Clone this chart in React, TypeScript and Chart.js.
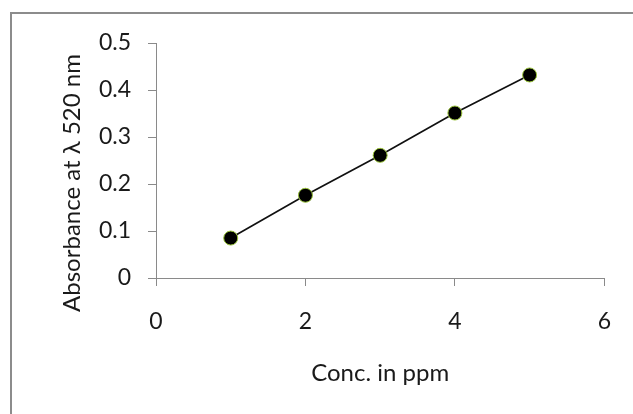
import React, { useEffect, useRef } from "react";
import { Chart, registerables } from "chart.js";

Chart.register(...registerables);

const concPpm = [1, 2, 3, 4, 5];
const absorbance = [0.085, 0.176, 0.261, 0.351, 0.432];
const xTickValues = [0, 2, 4, 6];
const yTickValues = [0, 0.1, 0.2, 0.3, 0.4, 0.5];
const xTitle = "Conc. in ppm";
const yTitle = "Absorbance at λ 520 nm";

const FONT = "Lato, 'Open Sans', sans-serif";
const AXIS_GREY = "#8a8a8a";

export default function App() {
  const canvasRef = useRef<HTMLCanvasElement | null>(null);

  useEffect(() => {
    if (!canvasRef.current) return;

    const yTitlePlugin = {
      id: "yTitlePlugin",
      afterDraw(chart: any) {
        const ctx = chart.ctx;
        ctx.save();
        ctx.translate(72, 183);
        ctx.rotate(-Math.PI / 2);
        ctx.font = `24px ${FONT}`;
        ctx.fillStyle = "#1a1a1a";
        ctx.textAlign = "center";
        ctx.textBaseline = "middle";
        ctx.fillText(yTitle, 0, 0);
        ctx.restore();
      },
    };

    const chart = new Chart(canvasRef.current, {
      type: "scatter",
      data: {
        datasets: [
          {
            data: concPpm.map((x, i) => ({ x, y: absorbance[i] })),
            showLine: true,
            borderColor: "#111",
            borderWidth: 1.7,
            pointRadius: 7,
            pointBackgroundColor: "#000",
            pointBorderColor: "#9ac43a",
            pointBorderWidth: 1,
          },
        ],
      },
      options: {
        animation: false,
        responsive: false,
        events: [],
        layout: { autoPadding: false, padding: { left: 0, top: 43, right: 26, bottom: 0 } },
        plugins: { legend: { display: false }, tooltip: { enabled: false } },
        scales: {
          x: {
            type: "linear",
            min: 0,
            max: 6,
            afterBuildTicks: (scale: any) => {
              scale.ticks = xTickValues.map((v) => ({ value: v }));
            },
            afterFit: (scale: any) => {
              scale.height = 136;
            },
            grid: {
              drawOnChartArea: false,
              drawTicks: true,
              tickLength: 8,
              color: AXIS_GREY,
            },
            border: { color: AXIS_GREY, width: 1 },
            ticks: {
              padding: 22,
              color: "#1a1a1a",
              font: { family: FONT, size: 23 },
            },
            title: {
              display: true,
              text: xTitle,
              color: "#1a1a1a",
              font: { family: FONT, size: 24 },
              padding: { top: 0, bottom: 26 },
            },
          },
          y: {
            type: "linear",
            min: 0,
            max: 0.5,
            afterBuildTicks: (scale: any) => {
              scale.ticks = yTickValues.map((v) => ({ value: v }));
            },
            afterFit: (scale: any) => {
              scale.width = 156;
            },
            grid: {
              drawOnChartArea: false,
              drawTicks: true,
              tickLength: 8,
              color: AXIS_GREY,
            },
            border: { color: AXIS_GREY, width: 1 },
            ticks: {
              padding: 17,
              color: "#1a1a1a",
              font: { family: FONT, size: 23 },
              callback: (v: any) => String(Math.round(Number(v) * 10) / 10),
            },
          },
        },
      },
      plugins: [yTitlePlugin],
    });

    return () => chart.destroy();
  }, []);

  return (
    <div style={{ position: "absolute", left: 0, top: 0, width: 633, height: 414, background: "#fff", overflow: "hidden" }}>
      <div
        style={{
          position: "absolute",
          left: 10,
          top: 12,
          width: 700,
          height: 500,
          borderLeft: "2px solid #8c8c8c",
          borderTop: "2px solid #8c8c8c",
        }}
      />
      <canvas ref={canvasRef} width={633} height={414} style={{ position: "absolute", left: 0, top: 0, width: 633, height: 414 }} />
    </div>
  );
}
